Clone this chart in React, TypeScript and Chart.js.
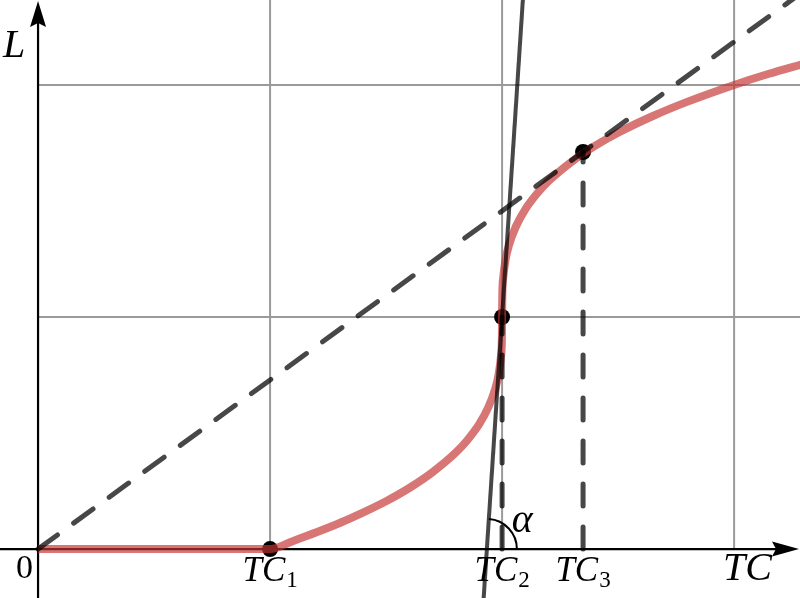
import React, { useEffect, useRef } from 'react';
import { Chart, registerables } from 'chart.js';

Chart.register(...registerables);

// axis ranges (grid units)
const X_MIN = -0.164;
const X_MAX = 3.284;
const Y_MIN = -0.211;
const Y_MAX = 2.366;

// red curve L(TC)
const curveX = [0, 1, 1.1, 1.2, 1.3, 1.4, 1.5, 1.6, 1.7, 1.8, 1.85, 1.9, 1.94, 1.97, 1.985, 1.995, 1.999, 2, 2.001, 2.005, 2.015, 2.03, 2.06, 2.1, 2.15, 2.2, 2.3, 2.4, 2.5, 2.65, 2.8, 3.0, 3.15, 3.3];
const curveY = [0, 0, 0.035, 0.072, 0.112, 0.157, 0.206, 0.263, 0.331, 0.415, 0.469, 0.536, 0.609, 0.689, 0.753, 0.829, 0.9, 1, 1.1, 1.171, 1.247, 1.311, 1.391, 1.464, 1.531, 1.585, 1.669, 1.737, 1.794, 1.866, 1.928, 2.0, 2.048, 2.091];

// tangent line at TC2
const tangentX = [1.918, 2.095];
const tangentY = [-0.25, 2.45];

// dashed ray from origin through TC3 point
const rayX = [0, 3.4];
const rayY = [0, 2.477];

// marked points
const pointX = [1, 2, 2.349];
const pointY = [0, 1, 1.711];

// vertical dashed drops (from axis up to point)
const dropX = [2, 2.349];
const dropY = [1, 1.711];

// grid values
const gridX = [1, 2, 3];
const gridY = [1, 2];

// tick labels
const tickPos = [1, 2, 2.349];
const tickSub = ['1', '2', '3'];

const SERIF = '"Liberation Serif", "DejaVu Serif", serif';
const LINE_COLOR = 'rgba(0,0,0,0.72)';

const toPts = (xs: number[], ys: number[]) => xs.map((x, i) => ({ x, y: ys[i] }));

const overlay = {
  id: 'overlay',
  beforeDatasetsDraw(chart: any) {
    const { ctx, chartArea, scales } = chart;
    const xs = scales.x, ys = scales.y;
    const x0 = xs.getPixelForValue(0);
    const y0 = ys.getPixelForValue(0);
    ctx.save();
    ctx.strokeStyle = '#9a9a9a';
    ctx.lineWidth = 2;
    gridX.forEach((v) => {
      const px = xs.getPixelForValue(v);
      ctx.beginPath();
      ctx.moveTo(px, chartArea.top);
      ctx.lineTo(px, y0);
      ctx.stroke();
    });
    gridY.forEach((v) => {
      const py = ys.getPixelForValue(v);
      ctx.beginPath();
      ctx.moveTo(x0, py);
      ctx.lineTo(chartArea.right, py);
      ctx.stroke();
    });
    // axes
    ctx.strokeStyle = '#000';
    ctx.lineWidth = 2.2;
    ctx.beginPath();
    ctx.moveTo(chartArea.left, y0);
    ctx.lineTo(chartArea.right - 20, y0);
    ctx.moveTo(x0, chartArea.bottom);
    ctx.lineTo(x0, chartArea.top + 20);
    ctx.stroke();
    ctx.fillStyle = '#000';
    // y arrow
    ctx.beginPath();
    ctx.moveTo(x0, chartArea.top + 1);
    ctx.lineTo(x0 + 8, chartArea.top + 27);
    ctx.lineTo(x0, chartArea.top + 23);
    ctx.lineTo(x0 - 8, chartArea.top + 27);
    ctx.closePath();
    ctx.fill();
    // x arrow
    ctx.beginPath();
    ctx.moveTo(chartArea.right - 1, y0);
    ctx.lineTo(chartArea.right - 28, y0 - 7.5);
    ctx.lineTo(chartArea.right - 24, y0);
    ctx.lineTo(chartArea.right - 28, y0 + 7.5);
    ctx.closePath();
    ctx.fill();
    ctx.restore();
  },
  afterDraw(chart: any) {
    const { ctx, chartArea, scales } = chart;
    const xs = scales.x, ys = scales.y;
    const x0 = xs.getPixelForValue(0);
    const y0 = ys.getPixelForValue(0);
    ctx.save();
    ctx.fillStyle = '#000';
    ctx.textBaseline = 'alphabetic';
    // axis labels
    ctx.font = `italic 40px ${SERIF}`;
    ctx.textAlign = 'left';
    ctx.fillText('L', x0 - 35, chartArea.top + 57);
    ctx.fillText('TC', chartArea.right - 77, y0 + 31);
    // origin
    ctx.font = `34px ${SERIF}`;
    ctx.textAlign = 'right';
    ctx.fillText('0', x0 - 5, y0 + 29);
    // tick labels with subscripts
    ctx.textAlign = 'left';
    tickPos.forEach((v, i) => {
      const cx = xs.getPixelForValue(v);
      ctx.font = `italic 35px ${SERIF}`;
      const w1 = ctx.measureText('TC').width;
      ctx.font = `23px ${SERIF}`;
      const w2 = ctx.measureText(tickSub[i]).width;
      const start = cx - (w1 + w2 + 1) / 2;
      ctx.font = `italic 35px ${SERIF}`;
      ctx.fillText('TC', start, y0 + 32);
      ctx.font = `23px ${SERIF}`;
      ctx.fillText(tickSub[i], start + w1 + 1, y0 + 38);
    });
    // angle arc alpha at tangent x-intercept
    const t = (0 - tangentY[0]) / (tangentY[1] - tangentY[0]);
    const xi = tangentX[0] + t * (tangentX[1] - tangentX[0]);
    const cx = xs.getPixelForValue(xi);
    const dx = xs.getPixelForValue(tangentX[1]) - xs.getPixelForValue(tangentX[0]);
    const dy = ys.getPixelForValue(tangentY[1]) - ys.getPixelForValue(tangentY[0]);
    const start = Math.atan2(dy, dx);
    ctx.strokeStyle = '#000';
    ctx.lineWidth = 2;
    ctx.beginPath();
    ctx.arc(cx, y0, 30, start, 0, false);
    ctx.stroke();
    ctx.font = `italic 40px ${SERIF}`;
    ctx.fillText('α', cx + 25, y0 - 17);
    ctx.restore();
  },
};

export default function App() {
  const ref = useRef<HTMLCanvasElement | null>(null);
  useEffect(() => {
    if (!ref.current) return;
    const dashed = {
      borderColor: LINE_COLOR,
      borderWidth: 5,
      borderDash: [24, 20],
      borderCapStyle: 'round' as const,
      pointRadius: 0,
      fill: false,
      order: 1,
    };
    const chart = new Chart(ref.current, {
      type: 'line',
      data: {
        datasets: [
          {
            data: toPts(rayX, rayY),
            ...dashed,
          },
          {
            data: toPts([dropX[0], dropX[0]], [0, dropY[0]]),
            ...dashed,
            borderDash: [22, 21],
          },
          {
            data: toPts([dropX[1], dropX[1]], [0, dropY[1]]),
            ...dashed,
            borderDash: [22, 21],
          },
          {
            data: toPts(tangentX, tangentY),
            borderColor: LINE_COLOR,
            borderWidth: 4,
            pointRadius: 0,
            fill: false,
            order: 1,
          },
          {
            data: toPts(curveX, curveY),
            borderColor: 'rgba(197,51,51,0.68)',
            borderWidth: 8,
            cubicInterpolationMode: 'monotone',
            pointRadius: 0,
            fill: false,
            order: 2,
          },
          {
            data: toPts(pointX, pointY),
            showLine: false,
            pointRadius: 8,
            pointBackgroundColor: '#000',
            pointBorderWidth: 0,
            order: 3,
          },
        ] as any,
      },
      options: {
        responsive: false,
        animation: false,
        layout: { padding: 0, autoPadding: false },
        plugins: { legend: { display: false }, tooltip: { enabled: false } },
        scales: {
          x: { type: 'linear', min: X_MIN, max: X_MAX, display: false },
          y: { type: 'linear', min: Y_MIN, max: Y_MAX, display: false },
        },
      },
      plugins: [overlay],
    });
    return () => chart.destroy();
  }, []);
  return (
    <div style={{ position: 'fixed', left: 0, top: 0, width: 800, height: 598, background: '#fff' }}>
      <canvas ref={ref} width={800} height={598} style={{ display: 'block' }} />
    </div>
  );
}
